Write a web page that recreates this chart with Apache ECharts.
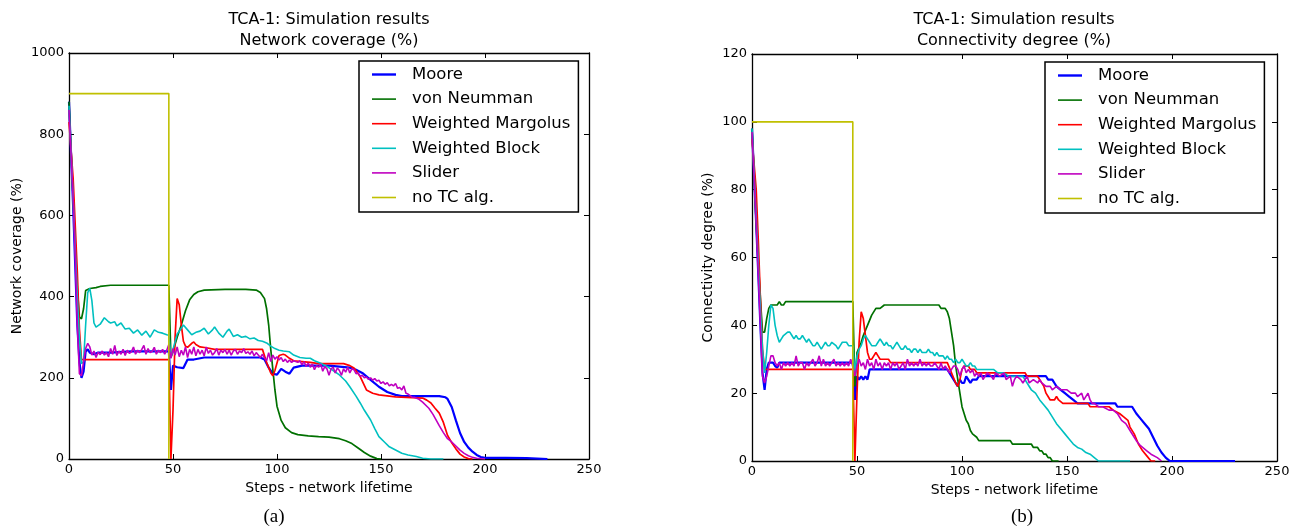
<!DOCTYPE html>
<html>
<head>
<meta charset="utf-8">
<script src="https://cdn.jsdelivr.net/npm/echarts@6/dist/echarts.min.js"></script>
<style>
html,body{margin:0;padding:0;background:#fff;}
#c{width:1298px;height:529px;}
</style>
</head>
<body>
<div id="c"></div>
<script>
// ---------- data ----------
const seriesNames = ['Moore', 'von Neumman', 'Weighted Margolus', 'Weighted Block', 'Slider', 'no TC alg.'];
const xTicks = [0, 50, 100, 150, 200, 250];
const covTicks = [0, 200, 400, 600, 800, 1000];
const conTicks = [0, 20, 40, 60, 80, 100, 120];

// (a) Network coverage (%)
const covMoore = [[0,880],[2,620],[4,330],[5,240],[6,200],[7,215],[8,265],[9,270],[10,262],[12,258],[14,262],[20,262],[30,265],[40,265],[48,265],[49,170],[50,230],[52,226],[55,224],[57,245],[60,245],[65,250],[75,250],[92,250],[94,245],[96,225],[98,210],[100,208],[102,222],[104,215],[106,210],[108,225],[112,230],[125,230],[135,225],[138,220],[141,212],[145,195],[149,178],[153,165],[157,158],[160,155],[170,155],[178,155],[181,152],[182,148],[184,128],[186,95],[188,64],[190,42],[192,28],[194,18],[196,10],[198,5],[200,3],[210,3],[220,2],[230,0]];
const covNeumann = [[0,880],[2,640],[4,420],[5,350],[6,345],[7,370],[8,415],[10,420],[13,422],[15,425],[20,428],[30,428],[40,428],[48,428],[49,250],[50,265],[52,300],[54,330],[56,365],[58,392],[60,405],[62,412],[65,416],[75,418],[85,418],[90,416],[92,410],[94,395],[95,370],[96,330],[97,270],[98,220],[99,170],[100,130],[102,95],[104,77],[107,65],[110,60],[115,57],[120,55],[125,54],[130,50],[133,45],[136,38],[139,27],[142,16],[145,7],[148,1],[150,0]];
const covMargolus = [[0,830],[2,690],[4,460],[5,320],[6,245],[7,245],[20,245],[30,245],[48,245],[49,0],[50,120],[51,300],[52,395],[53,380],[54,330],[55,290],[56,278],[57,275],[59,285],[60,288],[61,282],[63,276],[66,274],[70,270],[80,270],[93,270],[95,238],[97,212],[98,205],[99,218],[101,255],[103,258],[104,256],[106,248],[108,242],[112,240],[116,238],[120,235],[132,235],[135,230],[137,224],[140,203],[143,170],[146,162],[149,158],[157,153],[165,151],[170,150],[172,145],[174,138],[176,125],[178,113],[180,90],[182,58],[184,40],[186,25],[188,12],[190,5],[192,1],[194,0]];
const covBlock = [[0,870],[2,640],[4,400],[5,300],[6,235],[7,240],[8,330],[9,410],[10,420],[11,390],[12,335],[13,325],[15,332],[17,348],[19,338],[20,335],[22,338],[23,328],[25,335],[27,320],[29,322],[31,310],[33,318],[35,305],[37,315],[39,300],[41,318],[43,312],[45,310],[47,306],[48,305],[49,250],[50,270],[52,308],[54,322],[55,330],[57,318],[59,306],[61,312],[63,315],[65,322],[67,308],[69,318],[70,325],[72,310],[74,300],[76,315],[77,320],[79,302],[81,306],[83,300],[85,302],[87,296],[89,298],[91,292],[93,290],[95,286],[97,278],[99,272],[101,268],[103,266],[106,264],[108,256],[111,250],[114,248],[116,248],[118,242],[121,236],[124,228],[127,218],[130,207],[133,192],[135,178],[138,155],[140,138],[142,120],[145,96],[147,75],[149,55],[152,40],[154,30],[157,22],[160,14],[163,10],[167,6],[170,2],[174,0],[180,0]];
const covSlider = [[0,860],[2,640],[3,500],[4,330],[5,210],[6,205],[7,240],[8,272],[9,285],[10,276],[11,256],[12,266],[13,250],[14,263],[15,257],[16,266],[17,256],[18,262],[19,252],[20,272],[21,258],[22,280],[23,255],[24,266],[25,258],[26,270],[27,255],[28,268],[29,260],[30,264],[31,276],[32,258],[33,268],[34,262],[35,270],[36,280],[37,258],[38,272],[39,262],[40,265],[41,275],[42,258],[43,268],[44,262],[45,270],[46,258],[47,268],[48,282],[49,248],[50,272],[51,256],[52,276],[53,252],[54,268],[55,256],[56,276],[57,250],[58,270],[59,258],[60,276],[61,254],[62,270],[63,258],[64,268],[65,254],[66,276],[67,260],[68,268],[69,256],[70,262],[71,272],[72,256],[73,268],[74,262],[75,270],[76,258],[77,268],[78,256],[79,266],[80,270],[81,258],[82,266],[83,262],[84,272],[85,260],[86,264],[87,258],[88,266],[89,254],[90,262],[91,256],[92,250],[93,258],[94,248],[95,242],[96,262],[97,240],[98,256],[99,246],[100,252],[101,244],[102,250],[103,240],[104,246],[105,238],[106,244],[107,238],[108,242],[110,238],[111,242],[112,232],[113,240],[114,228],[115,236],[116,226],[117,234],[118,220],[119,230],[120,226],[121,234],[122,216],[123,228],[124,222],[125,206],[126,222],[127,226],[128,212],[129,224],[130,218],[131,206],[132,222],[133,214],[134,226],[135,212],[136,222],[137,220],[138,210],[139,212],[140,204],[141,206],[142,200],[143,202],[144,196],[145,200],[146,194],[147,198],[148,192],[149,194],[150,186],[151,190],[152,184],[153,188],[154,180],[155,184],[156,180],[157,186],[158,174],[159,176],[160,170],[161,180],[162,162],[163,160],[164,156],[165,152],[166,152],[168,148],[170,140],[173,125],[175,110],[178,82],[180,65],[182,50],[184,42],[186,32],[188,22],[190,14],[192,8],[194,4],[196,2],[200,0]];
const covNoTC = [[0,900],[48,900],[48,0]];

// (b) Connectivity degree (%)
const conMoore = [[0,98],[2,70],[4,40],[5,26],[6,21],[7,27],[8,29],[10,29],[11,28],[12,27.5],[13,29],[20,29],[30,29],[40,29],[48,29],[49,18],[50,25],[51,24],[52,25],[53,24],[54,25],[55,24],[56,27],[70,27],[80,27],[93,27],[95,25],[97,23],[98,22],[99,24],[100,23],[101,23],[102,25],[103,24],[104,23],[105,24],[107,24],[108,25],[110,25],[120,25],[130,25],[140,25],[141,24],[143,24],[144,23],[145,22],[147,21],[149,20],[151,19],[153,18],[155,17],[165,17],[173,17],[174,16],[181,16],[183,14],[185,12.5],[187,11],[189,9.5],[191,7],[193,4.5],[195,2.5],[197,1],[198,0.5],[199,0],[230,0]];
const conNeumann = [[0,98],[2,70],[4,48],[5,38],[6,38],[7,42],[8,45],[9,46],[12,46],[13,47],[14,46],[15,46],[16,47],[30,47],[48,47],[49,22],[50,32],[52,35],[53,37],[55,40],[57,43],[59,45],[61,45],[63,46],[75,46],[89,46],[90,45],[92,45],[93,44],[94,42],[95,38],[96,34],[97,28],[98,24],[99,20],[100,16],[101,14],[102,12],[103,11],[104,9],[105,8],[107,7],[108,6],[110,6],[123,6],[124,5],[133,5],[134,4],[136,4],[137,3],[138,3],[139,2],[140,2],[141,1],[142,1],[143,0],[146,0]];
const conMargolus = [[0,95],[2,80],[3,65],[4,48],[5,33],[6,27],[20,27],[48,27],[49,0],[50,20],[51,35],[52,44],[53,42],[54,37],[55,32],[56,30],[57,30],[58,31],[59,32],[60,31],[61,30],[65,30],[66,29],[92,29],[93,29],[95,26],[97,23],[98,22],[99,24],[100,27],[101,28],[103,28],[104,27],[106,27],[107,26],[130,26],[131,25],[136,25],[137,24],[139,22],[140,20],[141,19],[142,18],[144,18],[145,19],[146,18],[148,17],[160,17],[161,16],[170,16],[172,15],[175,14],[177,13],[179,12],[180,10],[182,8],[184,5],[186,3],[188,1.5],[190,0],[192,0]];
const conBlock = [[0,98],[2,72],[4,45],[5,33],[6,26],[7,32],[8,40],[9,46],[10,45],[11,40],[12,37],[13,35],[14,36],[15,37],[17,38],[18,38],[19,37],[20,36],[21,37],[22,36],[23,36],[24,37],[25,36],[26,35],[27,36],[28,35],[29,34],[30,34],[31,35],[32,34],[33,33],[34,34],[35,35],[36,34],[37,34],[38,35],[40,34],[41,33],[42,34],[43,35],[45,35],[46,34],[48,34],[49,26],[50,31],[51,33],[52,34],[53,36],[54,37],[55,36],[56,35],[57,34],[59,34],[60,35],[61,36],[62,35],[63,34],[64,35],[65,34],[66,34],[67,33],[68,34],[69,35],[70,34],[71,33],[72,33],[73,34],[74,33],[75,33],[76,32],[77,33],[78,33],[79,32],[80,33],[81,32],[83,32],[84,33],[85,32],[86,32],[87,31],[88,32],[89,31],[91,31],[92,30],[93,31],[94,30],[95,30],[96,29],[97,30],[98,29],[99,29],[100,30],[101,29],[102,28],[103,28],[104,29],[105,28],[106,28],[107,27],[115,27],[117,26],[120,26],[122,25],[129,25],[131,23],[133,21],[135,20],[137,18],[139,16.5],[141,15],[143,13],[145,11],[147,9.5],[149,8],[151,6.5],[153,5],[155,4],[157,3.5],[159,2.5],[161,2],[163,1],[165,0],[180,0]];
const conSlider = [[0,97],[2,70],[3,55],[5,25],[6,23],[7,25],[8,28],[9,31],[10,31],[11,29],[12,28],[13,29],[14,27],[15,29],[16,28],[17,29],[18,28],[19,29],[20,28],[21,31],[22,28],[23,29],[24,29],[25,27],[26,29],[27,28],[28,29],[29,30],[30,28],[31,29],[32,31],[33,28],[34,30],[35,28],[36,29],[37,28],[38,29],[39,30],[40,28],[41,29],[42,28],[43,29],[44,28],[45,29],[46,28],[47,30],[48,28],[49,25],[50,28],[51,30],[52,28],[53,29],[54,27],[55,30],[56,28],[57,29],[58,27],[59,30],[60,28],[61,29],[62,27],[63,29],[64,28],[65,29],[66,27],[67,29],[68,28],[69,29],[70,27],[71,28],[72,29],[73,27],[74,30],[75,28],[76,29],[77,28],[78,29],[79,28],[80,30],[81,28],[82,29],[83,28],[84,29],[85,28],[86,28],[87,29],[88,28],[89,27],[90,29],[91,27],[92,28],[93,27],[94,26],[95,27],[96,28],[97,28],[98,27],[99,25],[100,27],[101,28],[102,26],[103,27],[104,26],[105,27],[106,25],[107,26],[108,25],[109,26],[110,24],[112,26],[114,25],[115,24],[116,26],[118,25],[120,26],[121,24],[123,25],[124,22],[125,24],[126,25],[128,24],[129,23],[131,25],[132,23],[134,24],[136,23],[137,24],[138,23],[140,22],[142,22],[143,21],[145,22],[147,21],[150,21],[152,20],[154,20],[155,19],[157,20],[158,18],[160,20],[161,18],[162,17],[163,17],[165,16],[167,16],[170,15],[172,15],[174,14],[176,12],[178,11],[180,9],[182,7],[183,6],[185,4.5],[188,3],[190,2],[193,1],[195,0]];
const conNoTC = [[0,100],[48,100],[48,0]];

// ---------- styling ----------
const colors = ['#0000ff', '#007000', '#ff0000', '#00c0c0', '#c000c0', '#c0c000'];
const widths = [2.2, 1.7, 1.7, 1.6, 1.6, 1.6];
const FONT = 'DejaVu Sans';

const covData = [covMoore, covNeumann, covMargolus, covBlock, covSlider, covNoTC];
const conData = [conMoore, conNeumann, conMargolus, conBlock, conSlider, conNoTC];

function makeSeries(dataSets, axisIdx) {
  return dataSets.map((d, i) => ({
    name: seriesNames[i],
    type: 'line',
    xAxisIndex: axisIdx,
    yAxisIndex: axisIdx,
    data: d,
    symbol: 'none',
    showSymbol: false,
    smooth: false,
    lineStyle: { color: colors[i], width: widths[i] },
    itemStyle: { color: colors[i] },
    emphasis: { disabled: true },
    silent: true
  }));
}

const lineStyleAxis = { color: '#000', width: 1.3 };
const plainNum = v => String(v);
function xAx(grid, pos, showLabel, name) {
  return {
    gridIndex: grid, type: 'value', position: pos, min: 0, max: 250, interval: 50,
    name: name || '', nameLocation: 'middle', nameGap: 19,
    nameTextStyle: { color: '#000', fontSize: 14, fontFamily: FONT },
    axisLine: { show: true, onZero: false, lineStyle: lineStyleAxis },
    axisTick: { show: true, inside: true, length: 5, lineStyle: { color: '#000', width: 1 } },
    axisLabel: { show: showLabel, color: '#000', fontSize: 13, fontFamily: FONT, margin: 4, formatter: plainNum },
    splitLine: { show: false }
  };
}
function yAx(grid, pos, showLabel, max, interval, name, gap) {
  return {
    gridIndex: grid, type: 'value', position: pos, min: 0, max: max, interval: interval,
    name: name || '', nameLocation: 'middle', nameGap: gap || 40,
    nameTextStyle: { color: '#000', fontSize: 14, fontFamily: FONT },
    axisLine: { show: true, onZero: false, lineStyle: lineStyleAxis },
    axisTick: { show: true, inside: true, length: 5, lineStyle: { color: '#000', width: 1 } },
    axisLabel: { show: showLabel, color: '#000', fontSize: 13, fontFamily: FONT, margin: 5, formatter: plainNum },
    splitLine: { show: false }
  };
}

// legend icons: thin horizontal strokes like matplotlib legend handles
const thinIcon = 'path://M0,0 L24,0 L24,1.6 L0,1.6 Z';
const thickIcon = 'path://M0,0 L24,0 L24,2.4 L0,2.4 Z';
function legendAt(left, top) {
  return {
    left: left, top: top, orient: 'vertical',
    data: seriesNames.map((n, i) => ({ name: n, icon: i === 0 ? thickIcon : thinIcon, itemStyle: { color: colors[i] } })),
    itemWidth: 24, itemHeight: 14, itemGap: 7.6, symbolKeepAspect: true,
    padding: [5, 8, 6, 13],
    borderColor: '#000', borderWidth: 1.5, backgroundColor: '#fff',
    selectedMode: false,
    textStyle: { color: '#000', fontSize: 16.5, fontFamily: FONT, padding: [0, 0, 0, 11] }
  };
}

const titleStyle = { color: '#000', fontSize: 16, fontWeight: 'normal', fontFamily: FONT, lineHeight: 21 };
const capStyle = { color: '#000', fontSize: 19, fontWeight: 'normal', fontFamily: 'Liberation Serif' };

const option = {
  animation: false,
  backgroundColor: '#fff',
  title: [
    { text: 'TCA-1: Simulation results\nNetwork coverage (%)', left: 329, top: 9, textAlign: 'center', padding: 0, textStyle: titleStyle },
    { text: 'TCA-1: Simulation results\nConnectivity degree (%)', left: 1014, top: 9, textAlign: 'center', padding: 0, textStyle: titleStyle },
    { text: '(a)', left: 274, top: 508, textAlign: 'center', padding: 0, textStyle: capStyle },
    { text: '(b)', left: 1022, top: 508, textAlign: 'center', padding: 0, textStyle: capStyle }
  ],
  grid: [
    { left: 69, top: 53, width: 520, height: 406, show: false, containLabel: false },
    { left: 752, top: 54, width: 525, height: 407, show: false, containLabel: false }
  ],
  xAxis: [
    xAx(0, 'bottom', true, 'Steps - network lifetime'),
    xAx(1, 'bottom', true, 'Steps - network lifetime'),
    xAx(0, 'top', false),
    xAx(1, 'top', false)
  ],
  yAxis: [
    yAx(0, 'left', true, 1000, 200, 'Network coverage (%)', 45),
    yAx(1, 'left', true, 120, 20, 'Connectivity degree (%)', 37),
    yAx(0, 'right', false, 1000, 200),
    yAx(1, 'right', false, 120, 20)
  ],
  legend: [legendAt(359, 61), legendAt(1045, 62)],
  series: [].concat(makeSeries(covData, 0), makeSeries(conData, 1))
};

const chart = echarts.init(document.getElementById('c'), null, { renderer: 'canvas' });
chart.setOption(option);
</script>
</body>
</html>
